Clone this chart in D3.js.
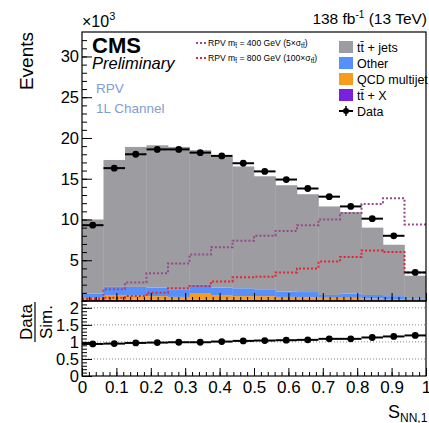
<!DOCTYPE html>
<html>
<head>
<meta charset="utf-8">
<script src="https://cdn.jsdelivr.net/npm/d3@7"></script>
<style>
  body { margin: 0; background: #fff; }
  text { font-family: "Liberation Sans", Arial, sans-serif; }
</style>
</head>
<body>
<svg id="drawing_region"></svg>
<script>
// bin edges of S_NN,1 (16 bins)
const binEdges = [0, 0.0625, 0.125, 0.1875, 0.25, 0.3125, 0.375, 0.4375, 0.5,
                  0.5625, 0.625, 0.6875, 0.75, 0.8125, 0.875, 0.9375, 1.0];

// stacked backgrounds, in units of 10^3 events
const ttX    = [0.12, 0.15, 0.15, 0.15, 0.15, 0.15, 0.15, 0.14, 0.13, 0.12, 0.11, 0.10, 0.10, 0.08, 0.07, 0.04];
const qcd    = [0.28, 0.59, 0.59, 0.45, 0.35, 0.75, 0.59, 0.46, 0.47, 0.38, 0.34, 0.30, 0.30, 0.22, 0.18, 0.11];
const other  = [0.50, 0.99, 0.99, 1.05, 0.94, 1.07, 0.91, 0.96, 0.84, 0.65, 0.65, 0.34, 0.50, 0.44, 0.35, 0.18];
const ttjets = [9.10, 15.57, 17.17, 17.45, 17.46, 16.53, 16.05, 14.94, 13.86, 13.05, 12.00, 10.86, 10.00, 8.26, 6.30, 2.77];

// signals
const rpv400 = [0.33, 1.44, 2.26, 3.40, 4.60, 5.70, 6.60, 7.40, 8.00, 8.60, 9.30, 10.0, 10.8, 11.9, 12.6, 9.40];
const rpv800 = [0.20, 0.40, 0.60, 1.00, 1.57, 1.85, 2.40, 2.90, 2.96, 3.50, 4.00, 4.85, 5.40, 6.20, 6.00, 3.50];

// observed data and ratio
const dataVals = [9.3, 16.3, 18.0, 18.6, 18.6, 18.2, 17.8, 16.9, 15.9, 14.9, 13.8, 12.8, 11.6, 10.1, 8.0, 3.5];
const ratioVals = [0.94, 0.95, 0.97, 0.98, 0.99, 0.99, 1.01, 1.03, 1.04, 1.05, 1.06, 1.09, 1.09, 1.13, 1.16, 1.19];

const xTickLabels = ["0", "0.1", "0.2", "0.3", "0.4", "0.5", "0.6", "0.7", "0.8", "0.9", "1"];
const yTickLabels = ["5", "10", "15", "20", "25", "30"];
const rTickLabels = ["0", "0.5", "1", "1.5", "2"];

const procNames  = ["ttX", "qcd", "other", "ttjets"];
const procColors = { ttX: "#7a21dd", qcd: "#f89c20", other: "#5790fc", ttjets: "#9c9ca1" };

const config = {
    width: 429, height: 423,
    left: 82, right: 426,
    mainTop: 32, mainBottom: 301,
    ratioTop: 301, ratioBottom: 376
};

const svg = d3.select('#drawing_region')
    .attr('width', config.width)
    .attr('height', config.height);

svg.append('rect').attr('width', config.width).attr('height', config.height).attr('fill', '#fff');

const xscale = d3.scaleLinear().domain([0, 1]).range([config.left, config.right]);
const yscale = d3.scaleLinear().domain([0, 33]).range([config.mainBottom, config.mainTop]);
const rscale = d3.scaleLinear().domain([0, 2.2]).range([config.ratioBottom, config.ratioTop]);

// ---- stacked histogram
const rows = binEdges.slice(0, -1).map((e, i) => ({
    lo: e, hi: binEdges[i + 1],
    ttX: ttX[i], qcd: qcd[i], other: other[i], ttjets: ttjets[i]
}));
const stacked = d3.stack().keys(procNames)(rows);

const main = svg.append('g');
stacked.forEach(layer => {
    main.append('g')
        .attr('fill', procColors[layer.key])
        .selectAll('rect')
        .data(layer)
        .join('rect')
        .attr('x', d => xscale(d.data.lo))
        .attr('width', d => xscale(d.data.hi) - xscale(d.data.lo) + 0.3)
        .attr('y', d => yscale(d[1]))
        .attr('height', d => yscale(d[0]) - yscale(d[1]));
});

// ---- signal step lines
const stepLine = d3.line()
    .x(d => xscale(d[0]))
    .y(d => yscale(d[1]))
    .curve(d3.curveStepAfter);
function stepPoints(vals) {
    const pts = vals.map((v, i) => [binEdges[i], v]);
    pts.push([binEdges[binEdges.length - 1], vals[vals.length - 1]]);
    return pts;
}
main.append('path')
    .attr('d', stepLine(stepPoints(rpv400)))
    .attr('fill', 'none').attr('stroke', '#964a8b')
    .attr('stroke-width', 2).attr('stroke-dasharray', '2,2');
main.append('path')
    .attr('d', stepLine(stepPoints(rpv800)))
    .attr('fill', 'none').attr('stroke', '#e42536')
    .attr('stroke-width', 2).attr('stroke-dasharray', '2,2');

// ---- data points
const pts = main.append('g');
pts.selectAll('line')
    .data(dataVals)
    .join('line')
    .attr('x1', (d, i) => xscale(binEdges[i]))
    .attr('x2', (d, i) => xscale(binEdges[i + 1]))
    .attr('y1', d => yscale(d)).attr('y2', d => yscale(d))
    .attr('stroke', '#000').attr('stroke-width', 2);
pts.selectAll('circle')
    .data(dataVals)
    .join('circle')
    .attr('cx', (d, i) => xscale((binEdges[i] + binEdges[i + 1]) / 2))
    .attr('cy', d => yscale(d))
    .attr('r', 3.4).attr('fill', '#000');

// ---- main axes (ticks inward)
const yMajor = d3.axisLeft(yscale).tickValues([5, 10, 15, 20, 25, 30])
    .tickSize(-10).tickPadding(3).tickFormat((d, i) => yTickLabels[i]);
const yMinor = d3.axisLeft(yscale).tickValues(d3.range(1, 33)).tickSize(-5).tickFormat('');
const xMajorMain = d3.axisBottom(xscale).tickValues(d3.range(0, 11).map(i => i / 10)).tickSize(-8).tickFormat('');
const xMinorMain = d3.axisBottom(xscale).tickValues(d3.range(0, 51).map(i => i / 50)).tickSize(-4).tickFormat('');

function styleAxis(g) {
    g.select('.domain').remove();
    g.selectAll('.tick line').attr('stroke', '#000').attr('stroke-width', 1);
    g.selectAll('.tick text').attr('font-size', '16.5px').attr('fill', '#000')
        .attr('font-family', '"Liberation Sans", Arial, sans-serif');
}
svg.append('g').attr('transform', `translate(${config.left},0)`).call(yMinor).call(styleAxis);
svg.append('g').attr('transform', `translate(${config.left},0)`).call(yMajor).call(styleAxis);
svg.append('g').attr('transform', `translate(0,${config.mainBottom})`).call(xMinorMain).call(styleAxis);
svg.append('g').attr('transform', `translate(0,${config.mainBottom})`).call(xMajorMain).call(styleAxis);

svg.append('rect')
    .attr('x', config.left).attr('y', config.mainTop)
    .attr('width', config.right - config.left).attr('height', config.mainBottom - config.mainTop)
    .attr('fill', 'none').attr('stroke', '#000').attr('stroke-width', 1.2);

// ---- ratio panel
const ratio = svg.append('g');
ratio.selectAll('line.grid')
    .data([0.5, 1, 1.5, 2])
    .join('line')
    .attr('class', 'grid')
    .attr('x1', config.left).attr('x2', config.right)
    .attr('y1', d => rscale(d)).attr('y2', d => rscale(d))
    .attr('stroke', '#888').attr('stroke-width', 1).attr('stroke-dasharray', '1,2');

ratio.selectAll('line.bar')
    .data(ratioVals)
    .join('line')
    .attr('class', 'bar')
    .attr('x1', (d, i) => xscale(binEdges[i]))
    .attr('x2', (d, i) => xscale(binEdges[i + 1]))
    .attr('y1', d => rscale(d)).attr('y2', d => rscale(d))
    .attr('stroke', '#000').attr('stroke-width', 2);
ratio.selectAll('circle')
    .data(ratioVals)
    .join('circle')
    .attr('cx', (d, i) => xscale((binEdges[i] + binEdges[i + 1]) / 2))
    .attr('cy', d => rscale(d))
    .attr('r', 3.4).attr('fill', '#000');

const rMajor = d3.axisLeft(rscale).tickValues([0, 0.5, 1, 1.5, 2])
    .tickSize(-10).tickPadding(3).tickFormat((d, i) => rTickLabels[i]);
const rMinor = d3.axisLeft(rscale).tickValues(d3.range(0, 23).map(i => i / 10)).tickSize(-5).tickFormat('');
const xMajor = d3.axisBottom(xscale).tickValues(d3.range(0, 11).map(i => i / 10))
    .tickSize(-8).tickPadding(5).tickFormat((d, i) => xTickLabels[i]);
const xMinor = d3.axisBottom(xscale).tickValues(d3.range(0, 51).map(i => i / 50)).tickSize(-4).tickFormat('');

svg.append('g').attr('transform', `translate(${config.left},0)`).call(rMinor).call(styleAxis);
svg.append('g').attr('transform', `translate(${config.left},0)`).call(rMajor).call(styleAxis);
svg.append('g').attr('transform', `translate(0,${config.ratioBottom})`).call(xMinor).call(styleAxis);
svg.append('g').attr('transform', `translate(0,${config.ratioBottom})`).call(xMajor).call(styleAxis)
    .selectAll('.tick text').attr('font-size', '17px');

svg.append('rect')
    .attr('x', config.left).attr('y', config.ratioTop)
    .attr('width', config.right - config.left).attr('height', config.ratioBottom - config.ratioTop)
    .attr('fill', 'none').attr('stroke', '#000').attr('stroke-width', 1.2);

// ---- titles and labels
const exp = svg.append('text').attr('x', 82).attr('y', 27).attr('font-size', '16px');
exp.append('tspan').text('×10');
exp.append('tspan').attr('dy', -7).attr('font-size', '11px').text('3');

const lumi = svg.append('text').attr('x', 427).attr('y', 24)
    .attr('text-anchor', 'end').attr('font-size', '15.5px');
lumi.append('tspan').text('138 fb');
lumi.append('tspan').attr('dy', -6).attr('font-size', '10px').text('-1');
lumi.append('tspan').attr('dy', 6).text(' (13 TeV)');

svg.append('text')
    .attr('transform', 'translate(33,32) rotate(-90)')
    .attr('text-anchor', 'end').attr('font-size', '19px')
    .text('Events');

svg.append('text').attr('x', 92).attr('y', 53)
    .attr('font-size', '22px').attr('font-weight', 'bold').text('CMS');
svg.append('text').attr('x', 92).attr('y', 69)
    .attr('font-size', '16.5px').attr('font-style', 'italic').text('Preliminary');
svg.append('text').attr('x', 96).attr('y', 93)
    .attr('font-size', '13.5px').attr('fill', '#7f9dd2').text('RPV');
svg.append('text').attr('x', 96).attr('y', 113)
    .attr('font-size', '13.5px').attr('fill', '#7f9dd2').text('1L Channel');

// ratio y title
svg.append('text')
    .attr('transform', 'translate(32,322) rotate(-90)')
    .attr('text-anchor', 'middle').attr('font-size', '17px').text('Data');
svg.append('line')
    .attr('x1', 35).attr('x2', 35).attr('y1', 302).attr('y2', 342)
    .attr('stroke', '#000').attr('stroke-width', 1.2);
svg.append('text')
    .attr('transform', 'translate(52,322) rotate(-90)')
    .attr('text-anchor', 'middle').attr('font-size', '17px').text('Sim.');

// x title
const xt = svg.append('text').attr('x', 388).attr('y', 418).attr('font-size', '18px');
xt.append('tspan').text('S');
xt.append('tspan').attr('dy', 4).attr('font-size', '12px').text('NN,1');

// ---- legend: signals
const sigLegend = [
    { mass: '400', scale: '5', color: '#964a8b', y: 46 },
    { mass: '800', scale: '100', color: '#e42536', y: 61 }
];
sigLegend.forEach(s => {
    svg.append('line')
        .attr('x1', 196).attr('x2', 206).attr('y1', s.y - 3).attr('y2', s.y - 3)
        .attr('stroke', s.color).attr('stroke-width', 2).attr('stroke-dasharray', '2,2');
    const t = svg.append('text').attr('x', 208).attr('y', s.y).attr('font-size', '8.6px');
    t.append('tspan').text('RPV m');
    t.append('tspan').attr('dy', 2).attr('font-size', '6.5px').text('t\u0303');
    t.append('tspan').attr('dy', -2).text(` = ${s.mass} GeV (${s.scale}×σ`);
    t.append('tspan').attr('dy', 2).attr('font-size', '6.5px').text('tt\u0303');
    t.append('tspan').attr('dy', -2).text(')');
});

// ---- legend: backgrounds and data
const bkgLegend = [
    { key: 'ttjets', label: 'tt\u0304 + jets', y: 47 },
    { key: 'other', label: 'Other', y: 63 },
    { key: 'qcd', label: 'QCD multijet', y: 79 },
    { key: 'ttX', label: 'tt\u0304 + X', y: 95 }
];
bkgLegend.forEach(b => {
    svg.append('rect')
        .attr('x', 339).attr('y', b.y - 6).attr('width', 14).attr('height', 12)
        .attr('fill', procColors[b.key]);
    svg.append('text').attr('x', 357).attr('y', b.y + 5)
        .attr('font-size', '12.5px').text(b.label);
});
svg.append('line').attr('x1', 339).attr('x2', 353).attr('y1', 111).attr('y2', 111)
    .attr('stroke', '#000').attr('stroke-width', 2);
svg.append('line').attr('x1', 346).attr('x2', 346).attr('y1', 106).attr('y2', 116)
    .attr('stroke', '#000').attr('stroke-width', 1.5);
svg.append('circle').attr('cx', 346).attr('cy', 111).attr('r', 3).attr('fill', '#000');
svg.append('text').attr('x', 357).attr('y', 116).attr('font-size', '12.5px').text('Data');
</script>
</body>
</html>
